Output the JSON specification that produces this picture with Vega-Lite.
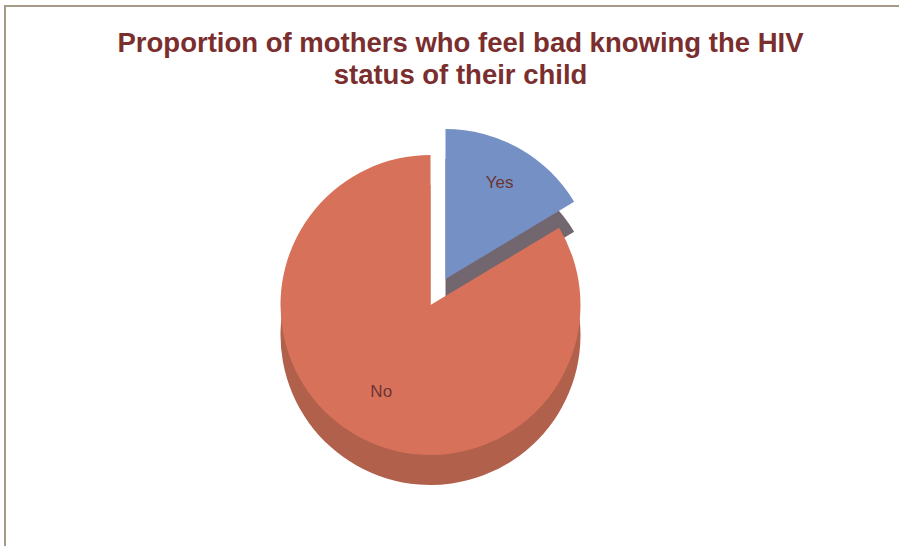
{
  "$schema": "https://vega.github.io/schema/vega-lite/v6.json",
  "width": 895,
  "height": 540,
  "autosize": {"type": "none"},
  "padding": {"left": 5, "top": 6, "right": 0, "bottom": 0},
  "background": "white",
  "view": {"stroke": "#a89a88", "strokeWidth": 2, "strokeDash": [894, 1436, 540], "fill": "white"},
  "title": {
    "text": ["Proportion of mothers who feel bad knowing the HIV", "status of their child"],
    "font": "Liberation Sans",
    "fontSize": 27.5,
    "fontWeight": "bold",
    "color": "#7a2e2e",
    "anchor": "middle",
    "frame": "group",
    "lineHeight": 32,
    "offset": -83,
    "dx": 8
  },
  "data": {
    "values": [
      {"answer": "Yes", "percent": 16.4},
      {"answer": "No", "percent": 83.6}
    ]
  },
  "transform": [
    {"stack": "percent", "groupby": [], "as": ["t0", "t1"], "sort": [{"field": "answer", "order": "descending"}]},
    {"calculate": "(datum.t0 + datum.t1) / 2", "as": "mid"}
  ],
  "encoding": {
    "theta": {"field": "t0", "type": "quantitative", "scale": {"domain": [0, 100]}},
    "theta2": {"field": "t1"}
  },
  "layer": [
    {
      "transform": [{"filter": "datum.answer === 'Yes'"}],
      "mark": {"type": "arc", "outerRadius": 150, "xOffset": -7, "yOffset": 33, "color": "#72666f"}
    },
    {
      "transform": [{"filter": "datum.answer === 'Yes'"}],
      "mark": {"type": "arc", "outerRadius": 150, "xOffset": -7, "yOffset": 3, "color": "#7490c4"}
    },
    {
      "transform": [{"filter": "datum.answer === 'No'"}],
      "mark": {"type": "arc", "outerRadius": 150, "xOffset": -22, "yOffset": 59, "color": "#b0604b"}
    },
    {
      "transform": [{"filter": "datum.answer === 'No'"}],
      "mark": {"type": "arc", "outerRadius": 150, "xOffset": -22, "yOffset": 29, "color": "#d8715a"}
    },
    {
      "transform": [{"filter": "datum.answer === 'Yes'"}],
      "mark": {"type": "text", "radius": 110, "xOffset": -7, "yOffset": 3, "font": "Liberation Sans", "fontSize": 17, "color": "#6b3535"},
      "encoding": {
        "theta": {"field": "mid", "type": "quantitative", "scale": {"domain": [0, 100]}},
        "theta2": null,
        "text": {"field": "answer"}
      }
    },
    {
      "transform": [{"filter": "datum.answer === 'No'"}],
      "mark": {"type": "text", "radius": 100, "xOffset": -22, "yOffset": 29, "font": "Liberation Sans", "fontSize": 17, "color": "#6b3535"},
      "encoding": {
        "theta": {"field": "mid", "type": "quantitative", "scale": {"domain": [0, 100]}},
        "theta2": null,
        "text": {"field": "answer"}
      }
    }
  ]
}
